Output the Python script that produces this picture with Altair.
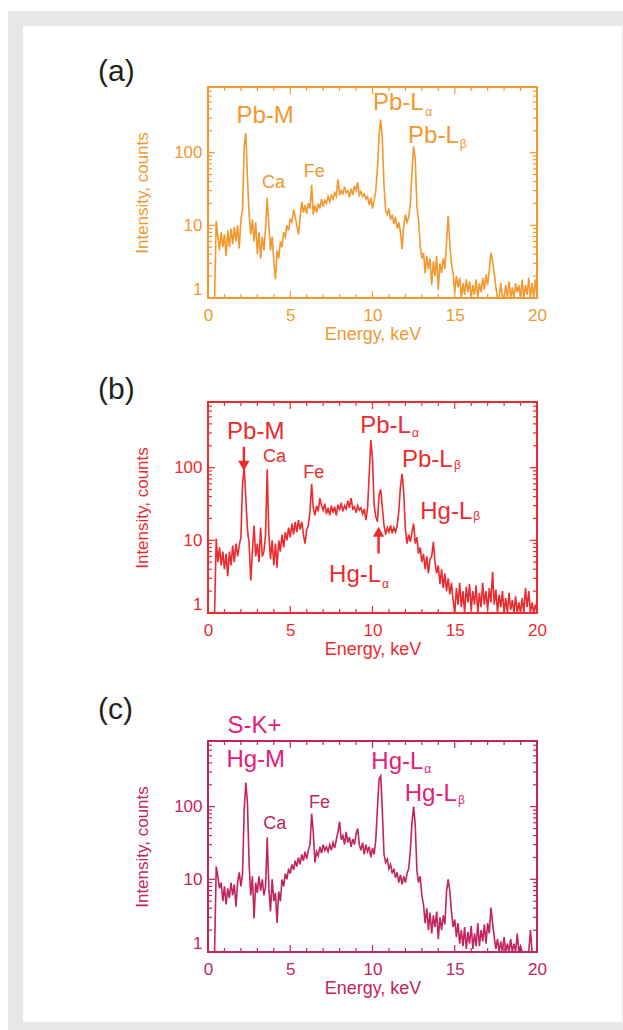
import altair as alt
import pandas as pd

# ---------------- data ----------------
ENERGY = [i / 10 for i in range(201)]  # keV channels, 0.0 .. 20.0

COUNTS_A = [
    1, 1, 1, 1, 1,
    11.5, 7, 4.5, 8, 5,
    7.5, 3.8, 8.5, 5, 9,
    5.5, 9.5, 6, 10, 4.8,
    12, 17, 120, 185, 45,
    14, 7.5, 12, 6, 11,
    4, 8, 3.5, 7, 4.5,
    9, 24, 10, 4.5, 7,
    3.2, 1.8, 4.5, 3.5, 6,
    5, 8, 7, 10, 8.5,
    12, 11, 16.5, 13, 10,
    7.5, 13, 21, 15, 19,
    14.5, 20, 17, 36, 14,
    19, 15, 20, 17, 23,
    18, 22, 20, 25, 21,
    26, 23, 28, 25, 43,
    26, 30, 27, 34, 28,
    30, 24, 32, 26, 35,
    30, 39, 26, 29, 25,
    27, 23, 25, 19, 24,
    17, 22, 30, 60, 175,
    285, 150, 35, 16, 14,
    17, 12, 14, 10.5, 13,
    9, 11, 8, 4.7, 10,
    14, 11, 13, 20, 55,
    122, 80, 18, 12, 5.2,
    3.5, 4.2, 2.2, 3.8, 2.5,
    3.5, 1.5, 3.2, 2, 3.8,
    1.3, 3, 2.2, 3.5, 2.5,
    5.8, 13.5, 5.5, 3, 2.2,
    1.2, 2, 1.4, 1.9, 1,
    1.6, 1.1, 1.8, 1.2, 1.7,
    1, 1.5, 1.1, 1.8, 1,
    1.6, 1.2, 1.9, 1.3, 2.1,
    1.5, 2.4, 4.2, 3.2, 2.2,
    1.4, 1, 1, 1.6, 1,
    1, 1.5, 1, 1.7, 1,
    1.4, 1, 1.6, 1.2, 1.5,
    1, 1.8, 1, 1.5, 1.1,
    1.9, 1, 1.6, 1, 1.8,
    1,
]

COUNTS_B = [
    1, 1, 1, 1, 1,
    10.5, 5, 8, 4.5, 7,
    4, 6.5, 3.2, 7, 4.5,
    8.5, 5, 9, 6, 8.5,
    11, 60, 100, 38, 14,
    9, 2.8, 7, 16, 6,
    9, 5, 15, 6, 7,
    12, 95, 12, 5.5, 10,
    4.5, 9, 4.2, 10, 7,
    12, 8, 13, 10, 15,
    11, 17, 12, 18, 13,
    19, 14, 18, 12, 9,
    14, 16, 25, 60, 28,
    22, 30, 25, 38, 30,
    26, 32, 23, 28, 22,
    30, 24, 29, 22, 31,
    26, 33, 25, 30, 27,
    35, 28, 38, 27, 29,
    24, 30, 26, 28, 23,
    27, 19, 28, 80, 240,
    130, 30, 21, 18, 42,
    50, 28, 16, 12, 15,
    13, 16, 12.5, 15, 13,
    16, 25, 55, 82, 45,
    14, 9, 12, 9.5, 13,
    17, 9, 11, 6.5, 8,
    5, 6.5, 4, 6, 3.5,
    5.5, 6, 9.5, 5, 3.5,
    4.5, 2.5, 4, 2.2, 3.5,
    2, 3, 1.8, 2.6, 1.5,
    1, 2.2, 1.3, 2.6, 1.2,
    2, 1, 2.3, 1.4, 2.5,
    1.1, 2, 1.3, 2.4, 1,
    1.9, 1.2, 2.6, 1.3, 2,
    1.1, 2.2, 1.4, 3.7, 1.3,
    2.1, 1, 1.8, 1.2, 2,
    1, 1.6, 1, 1.9, 1.1,
    1.5, 1, 1.7, 1, 1.4,
    1, 1.6, 1, 2.2, 1.2,
    2, 1, 1.4, 1, 1.3,
    1,
]

COUNTS_C = [
    1, 1, 1, 1, 1,
    15, 11, 7.5, 9, 5,
    8, 4.5, 7.5, 5.5, 9,
    6, 8.5, 4.2, 9, 12.5,
    8, 12, 90, 215, 110,
    16, 6, 11, 2.9, 9,
    6.5, 11, 7, 10, 6,
    8, 38, 7.5, 3.6, 10,
    5, 6.5, 2.5, 6.8, 5,
    10, 8, 12, 10, 14,
    12, 16, 13.5, 18, 15,
    20, 16, 22, 18, 24,
    19, 25, 30, 80, 45,
    17, 24, 21, 28, 23,
    30, 25, 28, 24, 30,
    25, 32, 27, 35, 45,
    62, 35, 40, 30, 45,
    32, 38, 28, 36, 30,
    42, 50, 30, 25, 32,
    22, 30, 24, 28, 20,
    27, 22, 35, 95, 240,
    265, 85, 22, 17, 19,
    14, 16, 12, 14, 10.5,
    12.5, 9, 11.5, 8.5, 11,
    9, 12, 14, 25, 60,
    100, 55, 13, 9, 11,
    6, 4.5, 2.5, 4, 2,
    3.5, 1.8, 3.2, 2.2, 3.6,
    1.5, 3, 2, 3.2, 2.4,
    6.8, 10, 7, 3.6, 2.2,
    2.8, 1.6, 2.5, 1.3, 2,
    1.2, 2.2, 1.1, 1.9, 1.3,
    2.3, 1.1, 1.8, 1.2, 2.5,
    1.2, 2, 1.4, 2.4, 1.3,
    2.5, 1.8, 4.1, 2.5, 1.6,
    1.1, 1.5, 1, 1.4, 1,
    1.6, 1, 1.3, 1, 1.5,
    1, 1.3, 1, 1.8, 1,
    1.2, 1, 1, 1, 1,
    1, 2, 1, 1, 1,
    1,
]

X_MAJOR = [0, 5, 10, 15, 20]
X_MINOR = [1, 2, 3, 4, 6, 7, 8, 9, 11, 12, 13, 14, 16, 17, 18, 19]
Y_MAJOR = [1, 10, 100]
Y_MINOR = [2, 3, 4, 5, 6, 7, 8, 9, 20, 30, 40, 50, 60, 70, 80, 90,
           200, 300, 400, 500, 600, 700, 800]

# annotation anchors (text, energy keV, counts)
BIG_A = [("Pb-M", 1.73, 252), ("Pb-L", 10.03, 380), ("Pb-L", 12.16, 134)]
SUB_A = [("α", 13.2, 324), ("β", 15.3, 115)]
SMALL_A = [("Ca", 3.28, 33), ("Fe", 5.82, 45.6)]

BIG_B = [("Pb-M", 1.16, 246), ("Pb-L", 9.25, 304), ("Pb-L", 11.79, 103),
         ("Hg-L", 12.9, 19.8), ("Hg-L", 7.36, 2.68)]
SUB_B = [("α", 12.4, 268), ("β", 14.95, 97), ("β", 16.12, 18.8), ("α", 10.58, 2.18)]
SMALL_B = [("Ca", 3.35, 118), ("Fe", 5.79, 72)]
ARROW_SHAFTS_B = [(2.18, 194, 106), (10.37, 13.1, 6.6)]
ARROW_HEADS_B = [(2.18, 106, "triangle-down"), (10.37, 13.1, "triangle-up")]

BIG_C = [("S-K+", 1.18, 1042), ("Hg-M", 1.12, 348), ("Hg-L", 9.93, 330), ("Hg-L", 11.96, 118)]
SUB_C = [("α", 13.15, 290), ("β", 15.2, 110)]
SMALL_C = [("Ca", 3.36, 49), ("Fe", 6.14, 96)]

# ---------------- style ----------------
FONT = "Liberation Sans"
W, H = 329, 211
ORANGE = "#F2982F"
RED = "#EC2B2F"
CRIMSON = "#C2245F"
PINK = "#E3207A"

XS = alt.Scale(domain=[0, 20], nice=False, zero=False)
YS = alt.Scale(type="log", domain=[1, 800], nice=False)
DUMMY = pd.DataFrame({"k": [0]})


def axes(color):
    xax = alt.Axis(values=X_MAJOR, format="d", ticks=False, domain=False, grid=False,
                   labelFont=FONT, labelFontSize=17, labelColor=color, labelPadding=9,
                   labelFlush=False, title="Energy, keV", titleFont=FONT,
                   titleFontSize=18, titleFontWeight="normal", titleColor=color,
                   titlePadding=2, zindex=1)
    yax = alt.Axis(values=Y_MAJOR, format="d", ticks=False, domain=False, grid=False,
                   labelFont=FONT, labelFontSize=17, labelColor=color, labelPadding=6,
                   labelFlush=True, title="Intensity, counts", titleFont=FONT,
                   titleFontSize=17, titleFontWeight="normal", titleColor=color,
                   titlePadding=22, zindex=1)
    return xax, yax


def text_layer(rows, size, color, xax, yax):
    d = pd.DataFrame(rows, columns=["t", "E", "c"])
    return alt.Chart(d).mark_text(
        align="left", baseline="alphabetic", font=FONT, fontSize=size, color=color
    ).encode(
        x=alt.X("E:Q", scale=XS, axis=xax),
        y=alt.Y("c:Q", scale=YS, axis=yax),
        text="t:N",
    )


def tick_layers(color, xax, yax):
    out = []
    for vals, L in ((X_MAJOR, 7), (X_MINOR, 4)):
        d = pd.DataFrame({"E": vals})
        for y0, y1 in ((H, H - L), (0, L)):
            out.append(alt.Chart(d).mark_rule(color=color, strokeWidth=1.2).encode(
                x=alt.X("E:Q", scale=XS, axis=xax),
                y=alt.value(y0), y2=alt.value(y1)))
    for vals, L in ((Y_MAJOR, 7), (Y_MINOR, 4)):
        d = pd.DataFrame({"c": vals})
        for x0, x1 in ((0, L), (W, W - L)):
            out.append(alt.Chart(d).mark_rule(color=color, strokeWidth=1.2).encode(
                y=alt.Y("c:Q", scale=YS, axis=yax),
                x=alt.value(x0), x2=alt.value(x1)))
    return out


def panel(counts, color, big, subs, small, big_color, small_color, tag, tag_dy,
          extra=None, background=False):
    xax, yax = axes(color)
    spec = pd.DataFrame({"E": ENERGY, "c": counts})
    layers = []
    if background:
        layers.append(alt.Chart(DUMMY).mark_rect(color="#E6E7E8").encode(
            x=alt.value(-200), x2=alt.value(415), y=alt.value(-76), y2=alt.value(943)))
        layers.append(alt.Chart(DUMMY).mark_rect(color="#FFFFFF").encode(
            x=alt.value(-185), x2=alt.value(414), y=alt.value(-61), y2=alt.value(935)))
    layers.append(alt.Chart(spec).mark_line(color=color, strokeWidth=1.6, clip=True).encode(
        x=alt.X("E:Q", scale=XS, axis=xax),
        y=alt.Y("c:Q", scale=YS, axis=yax)))
    layers.append(alt.Chart(DUMMY).mark_rect(fillOpacity=0, stroke=color, strokeWidth=2).encode(
        x=alt.value(0), x2=alt.value(W), y=alt.value(0), y2=alt.value(H)))
    layers += tick_layers(color, xax, yax)
    layers.append(text_layer(big, 24, big_color, xax, yax))
    layers.append(text_layer(subs, 12, big_color, xax, yax))
    layers.append(text_layer(small, 18, small_color, xax, yax))
    if extra is not None:
        layers += extra(xax, yax)
    layers.append(alt.Chart(DUMMY).mark_text(
        align="left", baseline="alphabetic", font=FONT, fontSize=30, color="#231F20",
        text=tag).encode(x=alt.value(-110), y=alt.value(tag_dy)))
    return alt.layer(*layers).properties(width=W, height=H)


shafts = pd.DataFrame(ARROW_SHAFTS_B, columns=["E", "c1", "c2"])
heads = pd.DataFrame(ARROW_HEADS_B, columns=["E", "c", "shape"])


def arrows_b(xax, yax):
    return [
        alt.Chart(shafts).mark_rule(color=RED, strokeWidth=2.5).encode(
            x=alt.X("E:Q", scale=XS, axis=xax),
            y=alt.Y("c1:Q", scale=YS, axis=yax), y2="c2:Q"),
        alt.Chart(heads).mark_point(color=RED, filled=True, opacity=1, size=130).encode(
            x=alt.X("E:Q", scale=XS, axis=xax),
            y=alt.Y("c:Q", scale=YS, axis=yax),
            shape=alt.Shape("shape:N", scale=None)),
    ]


pa = panel(COUNTS_A, ORANGE, BIG_A, SUB_A, SMALL_A, ORANGE, ORANGE, "(a)", -6,
           background=True)
pb = panel(COUNTS_B, RED, BIG_B, SUB_B, SMALL_B, RED, RED, "(b)", -3, extra=arrows_b)
pc = panel(COUNTS_C, CRIMSON, BIG_C, SUB_C, SMALL_C, PINK, CRIMSON, "(c)", -22)


def spacer(h):
    return alt.Chart(DUMMY).mark_point(opacity=0).encode(
        x=alt.value(0), y=alt.value(0)).properties(width=W, height=h)


chart = alt.vconcat(pa, spacer(104), pb, spacer(128), pc, spacing=0, bounds="flush").properties(
    padding={"left": 8, "top": 11, "right": 0, "bottom": 0},
    background="white",
).configure_view(stroke=None)

chart.save("out.html", embed_options={"renderer": "svg", "actions": False})
